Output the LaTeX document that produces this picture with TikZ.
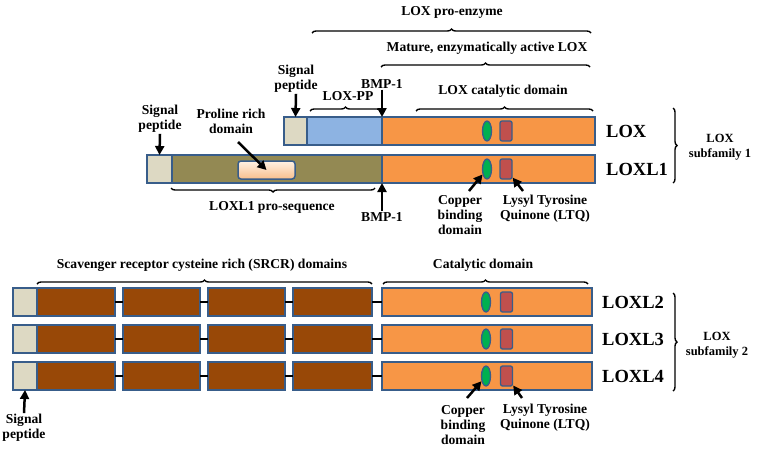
\documentclass[tikz,border=0pt]{standalone}
\usepackage{fontspec}
\setmainfont{Liberation Serif}
\usepackage{tikz}
\usetikzlibrary{arrows.meta,shapes.geometric,decorations.pathreplacing}
\definecolor{sigpep}{RGB}{221, 217, 195}
\definecolor{loxpp}{RGB}{141, 179, 226}
\definecolor{catal}{RGB}{247, 150, 70}
\definecolor{prosq}{RGB}{147, 137, 83}
\definecolor{srcr}{RGB}{152, 72, 7}
\definecolor{copper}{RGB}{0, 176, 80}
\definecolor{ltq}{RGB}{192, 80, 77}
\definecolor{edge}{RGB}{56, 93, 138}

\begin{document}
\begin{tikzpicture}[x=1pt, y=-1pt,
    dom/.style={draw=edge, line width=1.7pt, inner sep=0pt, outer sep=0pt,
                anchor=north west, minimum height=28pt}, % caixas dos dominios
    cu/.style={ellipse, draw=edge, line width=1.3pt, fill=copper,
               inner sep=0pt, minimum width=9pt, minimum height=20pt},
    ltqbox/.style={rectangle, rounded corners=2pt, draw=edge, line width=1.3pt,
                   fill=ltq, inner sep=0pt, minimum width=12pt, minimum height=20pt},
    lbl/.style={font=\bfseries\fontsize{13.6}{15}\selectfont, align=center,
                inner sep=1pt}, % textos pequenos
    gene/.style={font=\bfseries\fontsize{18.5}{20}\selectfont, anchor=west,
                 inner sep=0pt}, % nomes LOX, LOXL1...
    fam/.style={font=\bfseries\fontsize{12.5}{15}\selectfont, align=center},
    arr/.style={-{Triangle[length=9pt, width=9pt]}, line width=2.5pt},
    brc/.style={decorate, decoration={brace, amplitude=4pt}, line width=1.4pt},
    link/.style={line width=2.2pt}]
  \useasboundingbox (0,0) rectangle (759,456);

  % LOX
  \node[dom, fill=sigpep, minimum width=23pt] (lox-sp) at (284,117) {};
  \node[dom, fill=loxpp, minimum width=75pt] (lox-pp) at (307,117) {};
  \node[dom, fill=catal, minimum width=213pt] (lox-cat) at (382,117) {};
  \node[cu] (lox-cu) at (487,131) {};
  \node[ltqbox] (lox-ltq) at (506,131) {};
  \node[gene] (lox) at (606,131) {LOX};

  % LOXL1
  \node[dom, fill=sigpep, minimum width=25pt] (l1-sp) at (147,155) {};
  \node[dom, fill=prosq, minimum width=210pt] (l1-pro) at (172,155) {};
  \node[dom, fill=catal, minimum width=213pt] (l1-cat) at (382,155) {};
  \node[draw=edge, line width=1.5pt, rounded corners=3pt, inner sep=0pt,
        top color={rgb,255:red,255;green,242;blue,228},
        bottom color={rgb,255:red,248;green,190;blue,140},
        minimum width=57pt, minimum height=18pt] (l1-prol) at (266.5,170) {};
  \node[cu] (l1-cu) at (487,169) {};
  \node[ltqbox] (l1-ltq) at (506,169) {};
  \node[gene] (loxl1) at (606,169) {LOXL1};

  % chaves de cima
  \node[lbl] (proenz) at (452,12) {LOX pro-enzyme};
  \draw[brc] (312,33) -- (591,33);
  \node[lbl] (mature) at (487,48) {Mature, enzymatically active LOX};
  \draw[brc] (381,67) -- (590,67);
  \node[lbl] (loxpp-lbl) at (348,96) {LOX-PP};
  \draw[brc] (310,111) -- (381,111);
  \node[lbl] (catlox) at (503,91) {LOX catalytic domain};
  \draw[brc] (416,111) -- (593,111);
  \draw[brc] (375,188) -- (171,188);
  \node[lbl] (proseq) at (272,207) {LOXL1 pro-sequence};

  % setas
  \node[lbl] (sp-lox) at (296,79) {Signal\\peptide};
  \draw[arr] (sp-lox.south) -- (lox-sp.north);
  \node[lbl] (bmp-top) at (382,84) {BMP-1};
  \draw[arr] (bmp-top.south) -- (lox-cat.north west);
  \node[lbl] (sp-l1) at (160,119) {Signal\\peptide};
  \draw[arr] (sp-l1.south) -- (l1-sp.north);
  \node[lbl] (prolbl) at (231,121) {Proline rich\\domain};
  \coordinate (protail) at (238,142);
  \draw[arr] (protail) -- (l1-prol.center);
  \node[lbl] (bmp-bot) at (382,217) {BMP-1};
  \draw[arr] (bmp-bot.north) -- (l1-cat.south west);
  \node[lbl] (cu-top) at (460,215) {Copper\\binding\\domain};
  \coordinate (cutail1) at (469,191);
  \draw[arr] (cutail1) -- (l1-cu);
  \node[lbl] (ltq-top) at (545,209) {Lysyl Tyrosine\\Quinone (LTQ)};
  \coordinate (ltqtail1) at (523,191);
  \draw[arr] (ltqtail1) -- (l1-ltq);

  \draw[brc] (673,108) -- (673,183);
  \node[fam] (sub1) at (720,147) {LOX\\subfamily 1};

  % LOXL2, LOXL3, LOXL4
  \foreach \r/\y in {2/288, 3/325, 4/362} {
    \node[dom, fill=sigpep, minimum width=24pt] (l\r-sp) at (13,\y) {};
    \node[dom, fill=srcr, minimum width=78pt] (l\r-s1) at (37,\y) {};
    \node[dom, fill=srcr, minimum width=77pt] (l\r-s2) at (123,\y) {};
    \node[dom, fill=srcr, minimum width=77pt] (l\r-s3) at (208,\y) {};
    \node[dom, fill=srcr, minimum width=79pt] (l\r-s4) at (293,\y) {};
    \node[dom, fill=catal, minimum width=210pt] (l\r-cat) at (382,\y) {};
    \draw[link] (l\r-s1) -- (l\r-s2);
    \draw[link] (l\r-s2) -- (l\r-s3);
    \draw[link] (l\r-s3) -- (l\r-s4);
    \draw[link] (l\r-s4) -- (l\r-cat);
    \node[cu] (l\r-cu) at (486,\y+14) {};
    \node[ltqbox] (l\r-ltq) at (506.5,\y+14) {};
    \node[gene] (loxl\r) at (602,\y+14) {LOXL\r};
  }

  \node[lbl] (srcr-lbl) at (202,265) {Scavenger receptor cysteine rich (SRCR) domains};
  \draw[brc] (37,284) -- (372,284);
  \node[lbl] (cat-lbl) at (483,265) {Catalytic domain};
  \draw[brc] (383,284) -- (588,284);
  \draw[brc] (673,293) -- (673,391);
  \node[fam] (sub2) at (717,345) {LOX\\subfamily 2};

  \node[lbl] (sp-l4) at (24,428) {Signal\\peptide};
  \draw[arr] (sp-l4.north) -- (l4-sp.south);
  \node[lbl] (cu-bot) at (463,425) {Copper\\binding\\domain};
  \coordinate (cutail4) at (467,398);
  \draw[arr] (cutail4) -- (l4-cu);
  \node[lbl] (ltq-bot) at (545,418) {Lysyl Tyrosine\\Quinone (LTQ)};
  \coordinate (ltqtail4) at (522,398);
  \draw[arr] (ltqtail4) -- (l4-ltq);
\end{tikzpicture}
\end{document}
